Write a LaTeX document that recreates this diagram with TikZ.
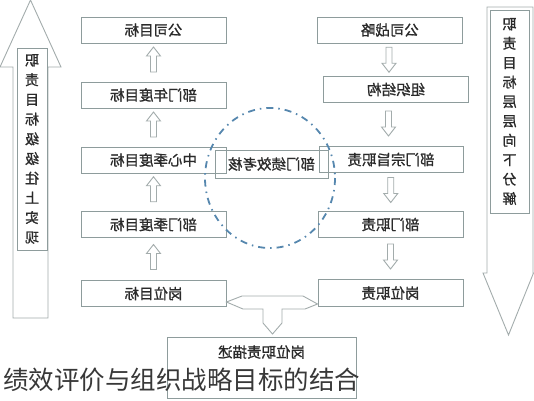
\documentclass[tikz,border=0pt]{standalone}
\usepackage{fontspec}
\usepackage{graphicx}
\usetikzlibrary{calc}
\newfontfamily\cjk{Noto Sans CJK SC}
\newfontfamily\cjkm[FakeBold=1.2]{Noto Sans CJK SC}
\newcommand\mtext[1]{\reflectbox{#1}}
\definecolor{boxgray}{HTML}{8E9C9C}
\definecolor{arrgray}{HTML}{A3ACAC}
\definecolor{txt}{HTML}{2A2A2A}
\definecolor{ringblue}{HTML}{5687AE}
\definecolor{captxt}{HTML}{383838}
\tikzset{
  box/.style={draw=boxgray, line width=0.9pt, minimum width=145pt, minimum height=26pt,
    inner sep=0pt, font=\cjkm\fontsize{14.5}{14.5}\selectfont, text=txt},
  vbox/.style={draw=boxgray, line width=0.9pt, inner sep=0pt, align=center,
    font=\cjkm\fontsize{14}{19.7}\selectfont, text=txt},
  arrline/.style={draw=arrgray, line width=0.9pt, fill=white},
  uparrow/.pic={\draw[arrline] (-3,12.5) -- (-3,-3.5) -- (-7,-3.5) -- (0,-12.5) -- (7,-3.5) -- (3,-3.5) -- (3,12.5) -- cycle;},
  downarrow/.pic={\draw[arrline] (-3,-12.5) -- (-3,3.5) -- (-7,3.5) -- (0,12.5) -- (7,3.5) -- (3,3.5) -- (3,-12.5) -- cycle;},
  ring/.style={draw=ringblue, line width=1.8pt, dash pattern=on 7pt off 5pt on 1.5pt off 5pt}
}
\begin{document}
\begin{tikzpicture}[x=1pt,y=-1pt]
\useasboundingbox (0,0) rectangle (534,400);
% big arrows
\draw[arrline] (13,318) -- (13,67) -- (0,67) -- (30.5,0) -- (61,67) -- (48,67) -- (48,318) -- cycle;
\draw[arrline] (487,7) -- (487,273) -- (483,273) -- (508.5,335) -- (533.5,273) -- (533,273) -- (533,7) -- cycle;
\node[vbox, minimum width=30pt, minimum height=202pt] (lt) at (32,149)
  {\mtext{职}\\\mtext{责}\\\mtext{目}\\\mtext{标}\\\mtext{级}\\\mtext{级}\\\mtext{往}\\\mtext{上}\\\mtext{实}\\\mtext{现}};
\node[vbox, minimum width=39pt, minimum height=203pt, font=\cjkm\fontsize{14}{19.4}\selectfont] (rt) at (509.5,111.5)
  {\mtext{职}\\\mtext{责}\\\mtext{目}\\\mtext{标}\\\mtext{层}\\\mtext{层}\\\mtext{向}\\\mtext{下}\\\mtext{分}\\\mtext{解}};
% left column
\node[box] (a1) at (153.5,30) {\mtext{公司目标}};
\node[box] (a2) at (153.5,95) {\mtext{部门年度目标}};
\node[box] (a3) at (153.5,160) {\mtext{中心季度目标}};
\node[box] (a4) at (153.5,224.5) {\mtext{部门季度目标}};
\node[box] (a5) at (153.5,293.5) {\mtext{岗位目标}};
% right column
\node[box] (b1) at (390,30) {\mtext{公司战略}};
\node[box] (b2) at (396,89.5) {\mtext{组织结构}};
\node[box, minimum width=144pt] (b3) at (391,159.5) {\mtext{部门宗旨职责}};
\node[box] (b4) at (390.5,224.5) {\mtext{部门职责}};
\node[box, minimum height=27pt] (b5) at (390.5,293) {\mtext{岗位职责}};
% centre box
\node[box, minimum width=113pt, minimum height=28pt] (c) at (271.5,164) {\mtext{部门绩效考核}};
% small arrows
\path ($(a2.north)!0.5!(a1.south)+(0,-3)$) pic {uparrow};
\path ($(a3.north)!0.5!(a2.south)+(0,-3)$) pic {uparrow};
\path ($(a4.north)!0.5!(a3.south)+(0,-3)$) pic {uparrow};
\path ($(a5.north)!0.5!(a4.south)+(0,-2)$) pic {uparrow};
\path ($(b1.south)!0.5!(b2.north)+(-4,0)$) pic {downarrow};
\path ($(b2.south)!0.5!(b3.north)+(-5,-1)$) pic {downarrow};
\path ($(b3.south)!0.5!(b4.north)+(0,-2)$) pic {downarrow};
\path ($(b4.south)!0.5!(b5.north)+(0,-2)$) pic {downarrow};
% bottom box
\node[draw=boxgray, line width=0.9pt, minimum width=189pt, minimum height=61pt, inner sep=0pt] (d) at (261.5,367.5) {};
\node[font=\cjkm\fontsize{14.5}{14.5}\selectfont, text=txt, inner sep=0pt] (dt) at (261.5,352) {\mtext{岗位职责描述}};
% callout
\draw[arrline] (a5.east |- 0,302) -- (242,296) -- (303,296) -- (b5.west |- 0,304) -- (305,309) -- (282,309) -- (282,323) -- (272.5,334) -- (263,323) -- (263,309) -- (243,309) -- cycle;
% ring
\draw[ring] (270,178) ellipse [x radius=65, y radius=70];
% caption
\node[anchor=base west, inner sep=0pt, font=\cjk\fontsize{25.5}{25.5}\selectfont, text=captxt] (cap) at (3,389) {绩效评价与组织战略目标的结合};
\end{tikzpicture}
\end{document}
